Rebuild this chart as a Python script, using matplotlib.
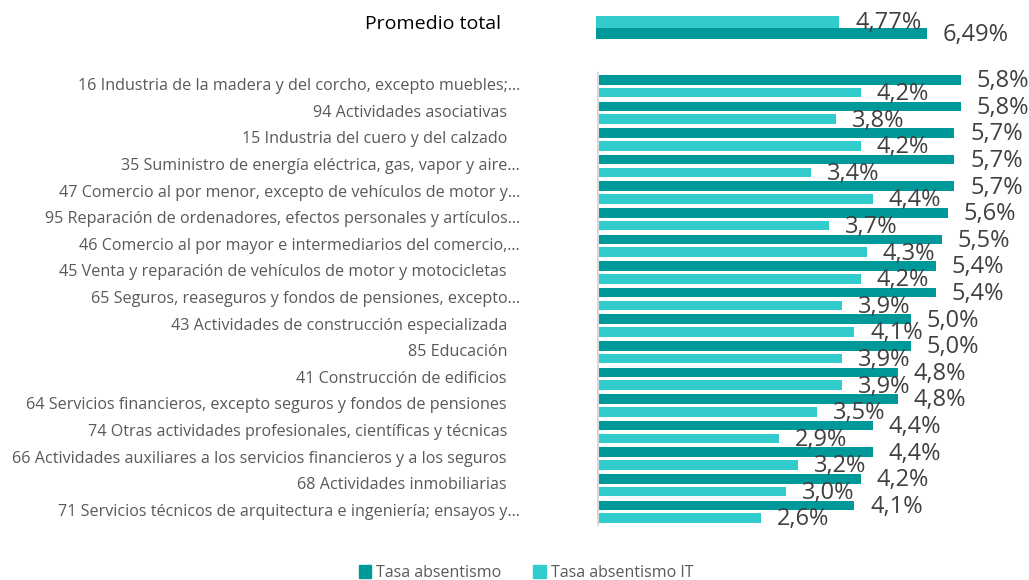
import matplotlib

matplotlib.use("Agg")
import matplotlib.pyplot as plt
from matplotlib.patches import Patch

plt.rcParams["font.family"] = ["Open Sans", "DejaVu Sans"]

DARK = "#009999"
LIGHT = "#33CCCC"
TEXT = "#595959"
VALUE = "#404040"

total_label = "Promedio total"
total_absentismo = 6.49
total_absentismo_it = 4.77

categories = [
    "16 Industria de la madera y del corcho, excepto muebles;…",
    "94 Actividades asociativas",
    "15 Industria del cuero y del calzado",
    "35 Suministro de energía eléctrica, gas, vapor y aire…",
    "47 Comercio al por menor, excepto de vehículos de motor y…",
    "95 Reparación de ordenadores, efectos personales y artículos…",
    "46 Comercio al por mayor e intermediarios del comercio,…",
    "45 Venta y reparación de vehículos de motor y motocicletas",
    "65 Seguros, reaseguros y fondos de pensiones, excepto…",
    "43 Actividades de construcción especializada",
    "85 Educación",
    "41 Construcción de edificios",
    "64 Servicios financieros, excepto seguros y fondos de pensiones",
    "74 Otras actividades profesionales, científicas y técnicas",
    "66 Actividades auxiliares a los servicios financieros y a los seguros",
    "68 Actividades inmobiliarias",
    "71 Servicios técnicos de arquitectura e ingeniería; ensayos y…",
]
tasa_absentismo = [5.8, 5.8, 5.7, 5.7, 5.7, 5.6, 5.5, 5.4, 5.4, 5.0, 5.0, 4.8, 4.8, 4.4, 4.4, 4.2, 4.1]
tasa_absentismo_it = [4.2, 3.8, 4.2, 3.4, 4.4, 3.7, 4.3, 4.2, 3.9, 4.1, 3.9, 3.9, 3.5, 2.9, 3.2, 3.0, 2.6]

W, H = 1029, 580
fig = plt.figure(figsize=(W / 100, H / 100), dpi=100)


def px_axes(x0, y0, x1, y1):
    return fig.add_axes([x0 / W, 1 - y1 / H, (x1 - x0) / W, (y1 - y0) / H])


def fmt(v, nd):
    return f"{v:.{nd}f}".replace(".", ",") + "%"


# top panel: overall average
ax_top = px_axes(596, 16, 996, 39)
ax_top.barh([1], [total_absentismo_it], height=1.0, color=LIGHT)
ax_top.barh([0], [total_absentismo], height=1.0, color=DARK)
ax_top.set_xlim(0, 400 / 51)
ax_top.set_ylim(-0.5, 1.5)
ax_top.axis("off")
for y, v in [(1, total_absentismo_it), (0, total_absentismo)]:
    ax_top.annotate(fmt(v, 2), (v, y), xytext=(11.5, -1), textcoords="offset points",
                    va="center", ha="left", fontsize=17, color=VALUE)
fig.text(501 / W, 1 - 24 / H, total_label, ha="right", va="center", fontsize=14, color="black")

# bottom panel: sectors
ax = px_axes(598, 73, 998, 525)
n = len(categories)
off = 0.24
h = 0.36
ys = list(range(n))
ax.barh([y - off for y in ys], tasa_absentismo, height=h, color=DARK)
ax.barh([y + off for y in ys], tasa_absentismo_it, height=h, color=LIGHT)
ax.set_xlim(0, 400 / 62.5)
ax.set_ylim(n - 0.5, -0.5)
for s in ["top", "right", "bottom"]:
    ax.spines[s].set_visible(False)
ax.spines["left"].set_color("#d9d9d9")
ax.spines["left"].set_linewidth(1.5)
ax.set_xticks([])
ax.set_yticks([])

for y, lab, a, b in zip(ys, categories, tasa_absentismo, tasa_absentismo_it):
    xr = 520 if lab.endswith("…") else 507
    ax.text((xr - 598) / 400, y, lab, transform=ax.get_yaxis_transform(),
            ha="right", va="center", fontsize=11.6, color=TEXT)
    ax.annotate(fmt(a, 1), (a, y - off), xytext=(11.5, -1), textcoords="offset points",
                va="center", ha="left", fontsize=17, color=VALUE)
    ax.annotate(fmt(b, 1), (b, y + off), xytext=(11.5, -1), textcoords="offset points",
                va="center", ha="left", fontsize=17, color=VALUE)

handles = [Patch(color=DARK, label="Tasa absentismo"), Patch(color=LIGHT, label="Tasa absentismo IT")]
fig.legend(handles=handles, loc="center", bbox_to_anchor=(526 / W, 1 - 573 / H), ncol=2,
           frameon=False, fontsize=11.5, labelcolor=TEXT, handlelength=0.8, handleheight=0.8,
           handletextpad=0.3, columnspacing=2.0)

fig.savefig("out.png", dpi=100)
plt.close(fig)
